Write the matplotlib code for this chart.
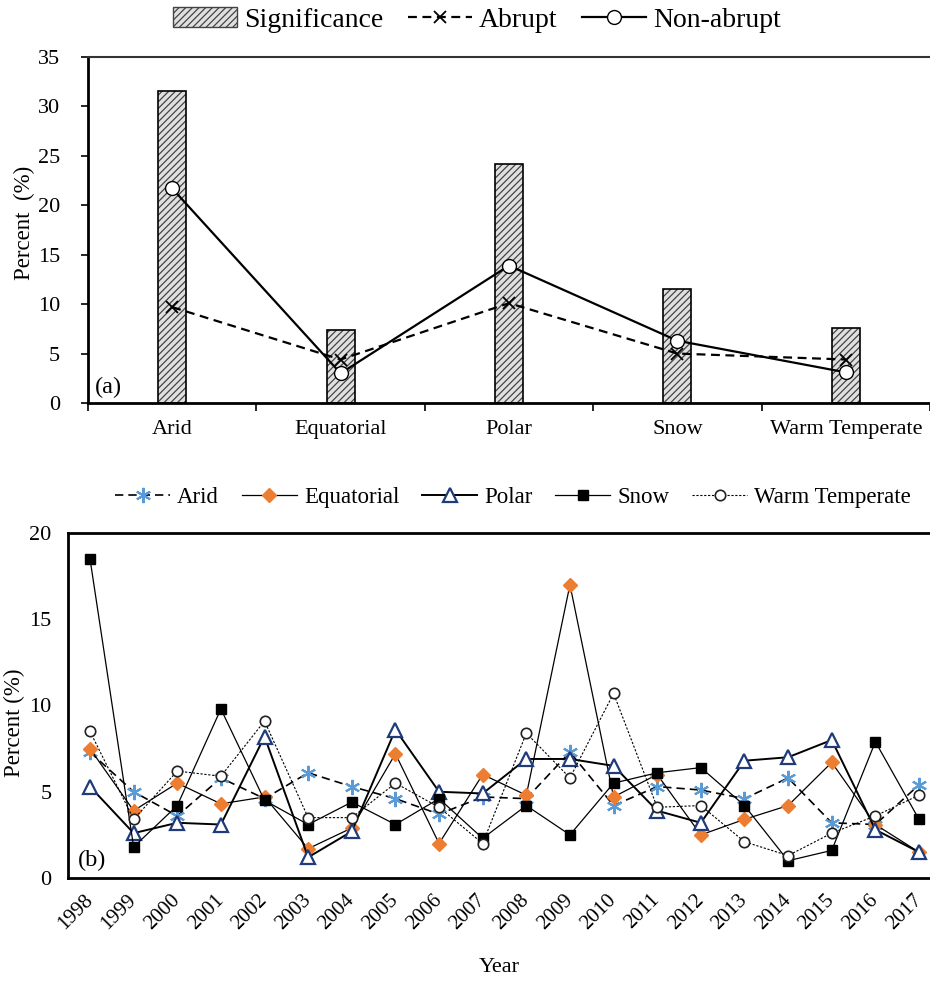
import matplotlib
matplotlib.use("Agg")
import matplotlib.pyplot as plt
from matplotlib.patches import Patch
from matplotlib.lines import Line2D

plt.rcParams['font.family'] = ['Liberation Serif', 'DejaVu Serif']
plt.rcParams['hatch.linewidth'] = 0.9

# --- DATA ---
zones = ['Arid', 'Equatorial', 'Polar', 'Snow', 'Warm Temperate']
significance = [31.6, 7.4, 24.2, 11.5, 7.6]
abrupt = [9.7, 4.4, 10.1, 5.0, 4.4]
non_abrupt = [21.7, 3.0, 13.9, 6.3, 3.1]

years = list(range(1998, 2018))
arid = [7.3, 5.0, 3.6, 5.8, 4.6, 6.1, 5.3, 4.6, 3.7, 4.7,
        4.6, 7.3, 4.2, 5.3, 5.1, 4.6, 5.8, 3.2, 3.1, 5.4]
equatorial = [7.5, 3.9, 5.5, 4.3, 4.7, 1.7, 2.9, 7.2, 2.0, 6.0,
              4.8, 17.0, 4.7, 6.0, 2.5, 3.4, 4.2, 6.7, 3.1, 1.5]
polar = [5.3, 2.6, 3.2, 3.1, 8.2, 1.2, 2.7, 8.6, 5.0, 4.9,
         6.9, 6.9, 6.5, 3.9, 3.2, 6.8, 7.0, 8.0, 2.8, 1.5]
snow = [18.5, 1.8, 4.2, 9.8, 4.5, 3.1, 4.4, 3.1, 4.6, 2.3,
        4.2, 2.5, 5.5, 6.1, 6.4, 4.2, 1.0, 1.6, 7.9, 3.4]
warm = [8.5, 3.4, 6.2, 5.9, 9.1, 3.5, 3.5, 5.5, 4.1, 2.0,
        8.4, 5.8, 10.7, 4.1, 4.2, 2.1, 1.3, 2.6, 3.6, 4.8]

ORANGE = '#ed7d31'
LBLUE = '#5b9bd5'
NAVY = '#1f3b7a'
ASTER = (6, 2, 0)

fig = plt.figure(figsize=(9.3, 9.85), dpi=100)

# --- PANEL (a) ---
ax1 = fig.add_axes([88 / 930, 1 - 403 / 985, 842 / 930, 346 / 985])
x = list(range(len(zones)))
ax1.bar(x, significance, width=0.166, color='#e0e0e0', edgecolor='#444444',
        hatch='/////', lw=0, zorder=2)
ax1.bar(x, significance, width=0.166, fill=False, edgecolor='black', lw=1.2, zorder=3)
ax1.plot(x, abrupt, color='black', ls=(0, (4, 2.5)), lw=1.6, marker='x',
         ms=9, mew=1.3, zorder=4)
ax1.plot(x, non_abrupt, color='black', ls='-', lw=1.6, marker='o', ms=10,
         mfc='white', mec='black', mew=1.0, zorder=5)

ax1.set_xlim(-0.5, 4.5)
ax1.set_ylim(0, 35)
ax1.set_yticks(range(0, 36, 5))
ax1.set_xticks(x)
ax1.set_xticklabels(zones, fontsize=16)
ax1.set_xticks([i - 0.5 for i in range(6)], minor=True)
ax1.tick_params(axis='x', which='major', length=0, pad=12)
ax1.tick_params(axis='x', which='minor', length=6, width=1.2, direction='out')
ax1.tick_params(axis='y', labelsize=16, length=5, width=1.2, direction='out', pad=15)
ax1.spines['right'].set_visible(False)
ax1.spines['left'].set_linewidth(2)
ax1.spines['bottom'].set_linewidth(2)
ax1.spines['top'].set_linewidth(1.5)
ax1.spines['top'].set_color('#333333')
ax1.set_ylabel('Percent  (%)', fontsize=16.5)
ax1.yaxis.set_label_coords(-0.063, 0.52)
ax1.text(0.008, 0.015, '(a)', transform=ax1.transAxes, fontsize=17.5, va='bottom')

h1 = [Patch(facecolor='#e0e0e0', edgecolor='#444444', hatch='/////', lw=1.0),
      Line2D([], [], color='black', ls=(0, (4, 2.5)), lw=1.6, marker='x', ms=9, mew=1.3),
      Line2D([], [], color='black', ls='-', lw=1.6, marker='o', ms=10, mfc='white', mec='black')]
fig.legend(h1, ['Significance', 'Abrupt', 'Non-abrupt'], loc='center',
           bbox_to_anchor=(477 / 930, 1 - 20 / 985), ncol=3, frameon=False,
           fontsize=20, handlelength=2.3, handletextpad=0.25, columnspacing=0.9)

# --- PANEL (b) ---
ax2 = fig.add_axes([68 / 930, 1 - 878 / 985, 862 / 930, 345 / 985])
ax2.plot(years, arid, color='black', ls=(0, (5, 3)), lw=1.2, marker=ASTER, ms=11,
         mec=LBLUE, mew=1.5, label='Arid', zorder=3)
ax2.plot(years, equatorial, color='black', ls='-', lw=0.9, marker='D', ms=7.5,
         mfc=ORANGE, mec=ORANGE, label='Equatorial', zorder=4)
ax2.plot(years, polar, color='black', ls='-', lw=1.4, marker='^', ms=10,
         mfc='white', mec=NAVY, mew=1.6, label='Polar', zorder=5)
ax2.plot(years, snow, color='black', ls='-', lw=0.9, marker='s', ms=7,
         mfc='black', mec='black', label='Snow', zorder=6)
ax2.plot(years, warm, color='black', ls=(0, (2, 1.5)), lw=0.8, marker='o', ms=7.5,
         mfc='white', mec='#222222', mew=1.2, label='Warm Temperate', zorder=7)

ax2.set_xlim(1998 - 22 / 43.63, 2017 + 11 / 43.63)
ax2.set_ylim(0, 20)
ax2.set_yticks(range(0, 21, 5))
ax2.set_xticks(years)
ax2.set_xticklabels([str(y) for y in years], rotation=45, ha='right',
                    va='center', rotation_mode='anchor', fontsize=15)
ax2.tick_params(axis='x', length=0, pad=14)
ax2.tick_params(axis='y', length=0, labelsize=16, pad=12)
for side in ['top', 'bottom', 'left']:
    ax2.spines[side].set_linewidth(2)
ax2.spines['right'].set_visible(False)
ax2.set_ylabel('Percent (%)', fontsize=16.5)
ax2.yaxis.set_label_coords(-0.05, 0.45)
ax2.set_xlabel('Year', fontsize=16)
ax2.xaxis.set_label_coords(0.5, -0.232)
ax2.text(0.012, 0.02, '(b)', transform=ax2.transAxes, fontsize=17.5, va='bottom')

fig.legend(*ax2.get_legend_handles_labels(), loc='center',
           bbox_to_anchor=(513 / 930, 1 - 497 / 985), ncol=5, frameon=False,
           fontsize=16.5, handlelength=2.4, handletextpad=0.3, columnspacing=1.0)

fig.savefig('out.png', dpi=100)
